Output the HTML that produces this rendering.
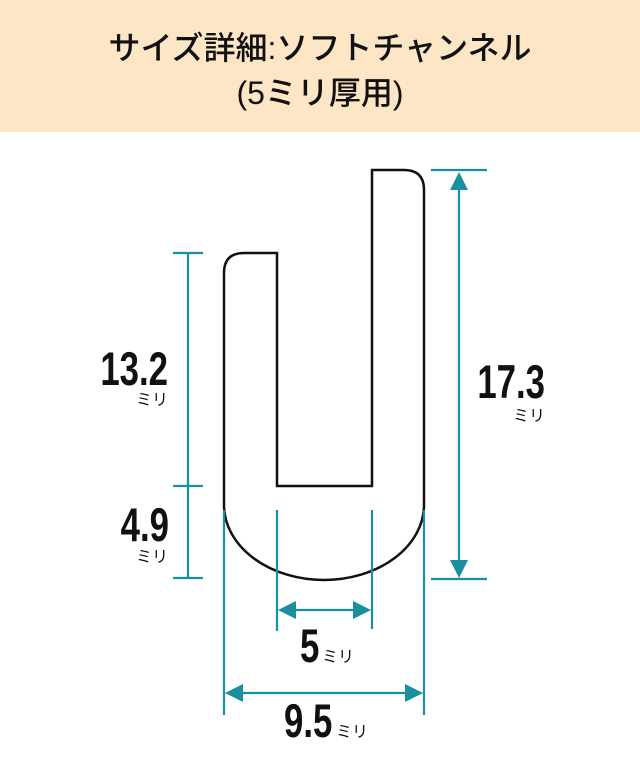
<!DOCTYPE html>
<html><head><meta charset="utf-8"><style>
html,body{margin:0;padding:0;background:#fff;}
svg{display:block}
.num{font-family:"Liberation Sans",sans-serif;font-weight:bold;fill:#111;font-size:47px}
.mm{font-family:"Liberation Sans","Noto Sans CJK JP",sans-serif;font-size:16px;fill:#111}
</style></head><body>
<svg width="640" height="773" viewBox="0 0 640 773" xmlns="http://www.w3.org/2000/svg">
<rect x="0" y="0" width="640" height="132" fill="#fce6c6"/>
<text x="320" y="59" text-anchor="middle" font-family="'Liberation Sans','Noto Sans CJK JP',sans-serif" font-size="32" font-weight="500" fill="#111">サイズ詳細:ソフトチャンネル</text>
<text x="320" y="104" text-anchor="middle" font-family="'Liberation Sans','Noto Sans CJK JP',sans-serif" font-size="32" font-weight="500" fill="#111">(5ミリ厚用)</text>

<path d="M224,273 Q224,253 244,253 L277,253 L277,486 L372,486 L372,170 L404,170 Q424,170 424,190 L424,505 A100,75 0 0 1 224,505 Z" fill="none" stroke="#111" stroke-width="2.5"/>

<g stroke="#1a8fa0" stroke-width="2.2" fill="none">
<line x1="188" y1="253" x2="188" y2="578"/>
<line x1="173" y1="253" x2="203" y2="253"/>
<line x1="173" y1="486" x2="203" y2="486"/>
<line x1="173" y1="578" x2="203" y2="578"/>
<line x1="459" y1="180" x2="459" y2="568"/>
<line x1="431" y1="170" x2="487" y2="170"/>
<line x1="431" y1="579" x2="487" y2="579"/>
<line x1="224" y1="510" x2="224" y2="715"/>
<line x1="424" y1="510" x2="424" y2="715"/>
<line x1="277" y1="510" x2="277" y2="631"/>
<line x1="372" y1="510" x2="372" y2="629"/>
<line x1="285" y1="610" x2="364" y2="610"/>
<line x1="232" y1="693" x2="416" y2="693"/>
</g>
<g fill="#1a8fa0">
<polygon points="459,172 450,190 468,190"/>
<polygon points="459,578 450,560 468,560"/>
<polygon points="278,610 296,601 296,619"/>
<polygon points="371,610 353,601 353,619"/>
<polygon points="225,693 243,684 243,702"/>
<polygon points="423,693 405,684 405,702"/>
</g>

<text class="num" transform="translate(168,385) scale(0.74,1)" text-anchor="end">13.2</text>
<text class="mm" x="168" y="405" text-anchor="end">ミリ</text>
<text class="num" transform="translate(169,541) scale(0.74,1)" text-anchor="end">4.9</text>
<text class="mm" x="168" y="562" text-anchor="end">ミリ</text>
<text class="num" transform="translate(545,398) scale(0.74,1)" text-anchor="end">17.3</text>
<text class="mm" x="545" y="421" text-anchor="end">ミリ</text>
<text class="num" transform="translate(300,662) scale(0.74,1)">5</text>
<text class="mm" x="322" y="662">ミリ</text>
<text class="num" transform="translate(284,737) scale(0.74,1)">9.5</text>
<text class="mm" x="336" y="737">ミリ</text>
</svg>
</body></html>
